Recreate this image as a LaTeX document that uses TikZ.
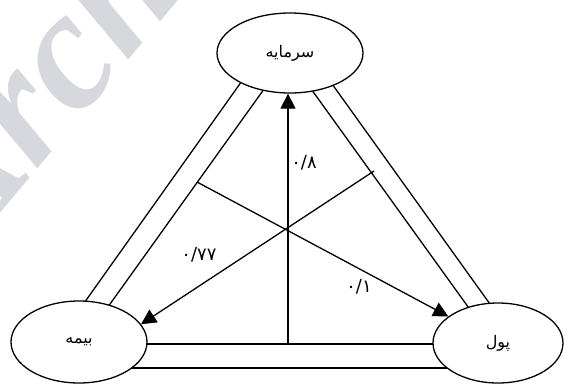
\documentclass[tikz,border=0pt]{standalone}
\usepackage{fontspec}
\usetikzlibrary{shapes.geometric,arrows.meta,calc}
\newfontfamily\fa[Script=Arabic]{DejaVu Sans}
\newfontfamily\wmfont{Liberation Serif}
\TeXXeTstate=1
\definecolor{wmgray}{RGB}{214,216,222}
\pgfdeclarelayer{bg}
\pgfsetlayers{bg,main}
\begin{document}
\begin{tikzpicture}[x=1pt,y=-1pt,
  ent/.style={ellipse,draw,line width=1.3pt,fill=white,inner sep=0pt,font=\fa\fontsize{16}{18}\selectfont},
  rel/.style={line width=1.3pt},
  arr/.style={line width=1.3pt,-{Triangle[length=15pt,width=15pt]}},
  val/.style={font=\fa\fontsize{18}{20}\selectfont}]
\useasboundingbox (0,0) rectangle (564,384);
\clip (0,0) rectangle (564,384);
\node[rotate=50,anchor=base west,text=wmgray,font=\wmfont\bfseries\itshape\fontsize{170}{170}\selectfont] (wm) at (-39.5,261) {Archive};
\node[ent,minimum width=146pt,minimum height=80pt] (top) at (290,53) {\beginR سرمایه\endR};
\node[ent,minimum width=136pt,minimum height=82pt] (ins) at (79,342) {\beginR بیمه\endR};
\node[ent,minimum width=130pt,minimum height=80pt] (mon) at (498,343) {\beginR پول\endR};
\begin{pgfonlayer}{bg}
\draw[rel] ($(top.center)+(-36,11)$) -- ($(ins.center)+(-7,-22)$);
\draw[rel] ($(top.center)+(-13,18)$) -- ($(ins.center)+(16,-17)$);
\draw[rel] ($(top.center)+(6,15)$) -- ($(mon.center)+(-14,-14)$);
\draw[rel] ($(top.center)+(27,10)$) -- ($(mon.center)+(7,-18)$);
\draw[rel] ($(ins.center)+(0,2)$) -- ($(mon.center)+(0,1)$);
\draw[rel] ($(ins.center)+(0,26)$) -- ($(mon.center)+(0,25)$);
\end{pgfonlayer}
\coordinate (vb) at (288,344);
\coordinate (p1) at (197,182);
\coordinate (p2) at (374,171);
\draw[arr] (vb) -- (vb |- top.south);
\draw[arr] (p1) -- (mon);
\draw[arr] (p2) -- (ins.16);
\node[val] (l8) at (304,163) {۰/۸};
\node[val] (l77) at (199,255) {۰/۷۷};
\node[val] (l1) at (359,287) {۰/۱};
\end{tikzpicture}
\end{document}
